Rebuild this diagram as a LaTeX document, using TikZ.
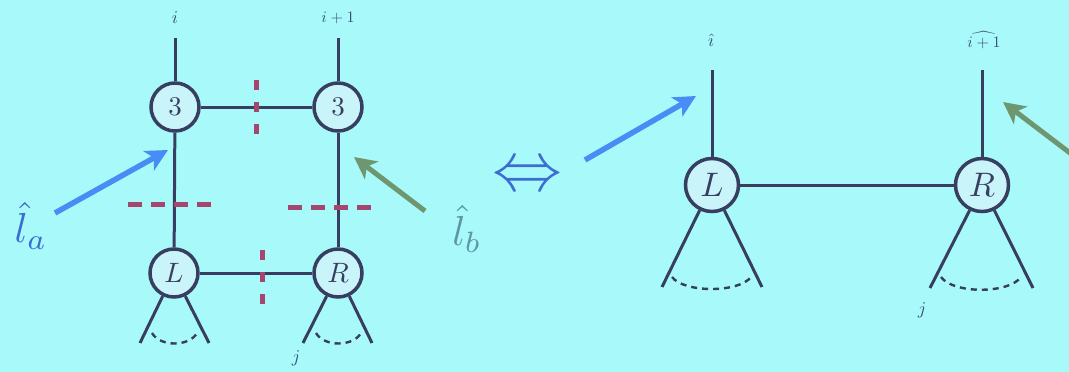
\documentclass[tikz,border=0pt]{standalone}
\usepackage{graphicx}
\usetikzlibrary{arrows.meta}
\definecolor{bgc}{RGB}{168,250,250}
\definecolor{cfill}{RGB}{200,244,250}
\definecolor{ink}{RGB}{55,62,95}
\definecolor{lab}{RGB}{60,78,120}
\definecolor{reddash}{RGB}{165,70,110}
\definecolor{barrow}{RGB}{72,140,245}
\definecolor{garrow}{RGB}{110,150,112}
\definecolor{btext}{RGB}{60,110,210}
\definecolor{gtext}{RGB}{95,150,165}
\tikzset{
  tn/.style={circle,draw=ink,line width=3.5pt,fill=cfill,inner sep=0pt,minimum size=#1,text=ink},
  edge/.style={draw=ink,line width=3pt},
  dots/.style={draw=ink,line width=2.4pt,dash pattern=on 6pt off 5pt},
  cut/.style={draw=reddash,line width=5pt,dash pattern=on 14pt off 9pt},
  vcut/.style={draw=reddash,line width=5pt,dash pattern=on 10pt off 12pt},
  barr/.style={draw=barrow,line width=5.5pt,-{Stealth[length=22pt,width=22pt,inset=6pt]}},
  garr/.style={draw=garrow,line width=5pt,-{Stealth[length=22pt,width=22pt,inset=6pt]}},
  idx/.style={text=lab,inner sep=0pt},
}
\newcommand{\bigs}[2]{\scalebox{#1}{#2}}
\begin{document}
\begin{tikzpicture}[x=1pt,y=-1pt]
\useasboundingbox (0,0) rectangle (1069,372);
\clip (0,0) rectangle (1069,372);
\fill[bgc] (0,0) rectangle (1069,372);

% ---------- left diagram ----------
\node[tn=48pt] (T1) at (175,107) {\bigs{2.7}{$3$}};
\node[tn=48pt] (T2) at (338,107) {\bigs{2.7}{$3$}};
\node[tn=48pt] (L1) at (174,273) {\bigs{2.8}{$L$}};
\node[tn=48pt] (R1) at (338,273) {\bigs{2.8}{$R$}};

\coordinate (t1) at (175,38);
\coordinate (t2) at (338,38);
\node[idx] (li) at (175,18) {\bigs{1.8}{$i$}};
\node[idx] (lip) at (338,18) {\bigs{1.6}{$i+1$}};

\path[edge] (t1) -- (T1);
\path[edge] (t2) -- (T2);
\path[edge] (T1) -- (T2);
\path[edge] (T1) -- (L1);
\path[edge] (T2) -- (R1);
\path[edge] (L1) -- (R1);

\coordinate (a1) at (140,343);
\coordinate (a2) at (209,343);
\coordinate (b1) at (303,343);
\coordinate (b2) at (372,343);
\path[edge] (L1.-116) -- (a1);
\path[edge] (L1.-64) -- (a2);
\path[edge] (R1.-116) -- (b1);
\path[edge] (R1.-64) -- (b2);
\coordinate (ad1) at (152,333);
\coordinate (ad2) at (197,333);
\coordinate (bd1) at (316,333);
\coordinate (bd2) at (361,333);
\path[dots] (ad1) .. controls (160,347) and (189,347) .. (ad2);
\path[dots] (bd1) .. controls (324,347) and (353,347) .. (bd2);
\node[idx] (lj1) at (296,358) {\bigs{1.8}{$j$}};

% red cuts
\coordinate (ch1) at (128,204);
\coordinate (ch2) at (218,204);
\coordinate (ch3) at (288,207);
\coordinate (ch4) at (374,207);
\coordinate (cv1) at (256,80);
\coordinate (cv2) at (256,142);
\coordinate (cv3) at (262,250);
\coordinate (cv4) at (262,314);
\path[cut] (ch1) -- (ch2);
\path[cut] (ch3) -- (ch4);
\path[vcut] (cv1) -- (cv2);
\path[vcut] (cv3) -- (cv4);

% arrows left
\coordinate (ba1) at (55,213);
\coordinate (ba2) at (168,150);
\path[barr] (ba1) -- (ba2);
\coordinate (ga1) at (425,211);
\coordinate (ga2) at (354,157);
\path[garr] (ga1) -- (ga2);
\node[text=btext,inner sep=0pt] (la) at (31,226) {\bigs{4.2}{$\hat{l}_a$}};
\node[text=gtext,inner sep=0pt] (lb) at (467,229) {\bigs{4.2}{$\hat{l}_b$}};

% equivalence
\node[text=btext,inner sep=0pt] (eq) at (527,178) {\bigs{7}{$\Leftrightarrow$}};

% ---------- right diagram ----------
\node[tn=53pt] (L2) at (712,185) {\bigs{3.4}{$L$}};
\node[tn=53pt] (R2) at (982,185) {\bigs{3.4}{$R$}};
\coordinate (u1) at (712,70);
\coordinate (u2) at (982,70);
\node[idx] (lhi) at (711,40) {\bigs{1.8}{$\hat{\imath}$}};
\node[idx] (lhip) at (984,40) {\bigs{1.6}{$\widehat{i+1}$}};
\path[edge] (u1) -- (L2);
\path[edge] (u2) -- (R2);
\path[edge] (L2) -- (R2);
\coordinate (c1) at (662,287);
\coordinate (c2) at (762,287);
\coordinate (d1) at (930,288);
\coordinate (d2) at (1033,288);
\path[edge] (L2.-116) -- (c1);
\path[edge] (L2.-64) -- (c2);
\path[edge] (R2.-116) -- (d1);
\path[edge] (R2.-64) -- (d2);
\coordinate (cd1) at (672,277);
\coordinate (cd2) at (751,277);
\coordinate (dd1) at (941,277);
\coordinate (dd2) at (1021,277);
\path[dots] (cd1) .. controls (684,293) and (739,293) .. (cd2);
\path[dots] (dd1) .. controls (953,294) and (1009,294) .. (dd2);
\node[idx] (lj2) at (922,310) {\bigs{1.8}{$j$}};

\coordinate (bb1) at (585,160);
\coordinate (bb2) at (696,96);
\path[barr] (bb1) -- (bb2);
\coordinate (gb1) at (1095,172);
\coordinate (gb2) at (1003,102);
\path[garr] (gb1) -- (gb2);
\end{tikzpicture}
\end{document}
